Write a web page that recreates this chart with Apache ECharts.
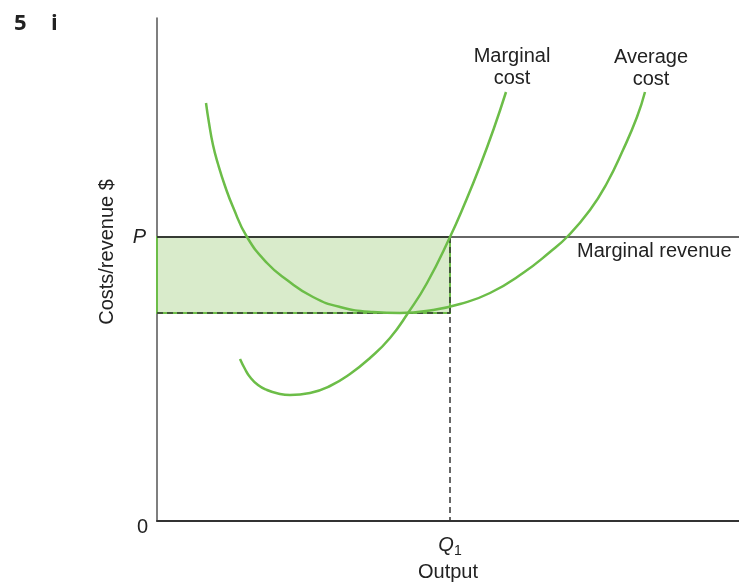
<!DOCTYPE html>
<html><head><meta charset="utf-8">
<script src="https://cdn.jsdelivr.net/npm/echarts@6/dist/echarts.min.js"></script>
<style>html,body{margin:0;padding:0;background:#fff}#c{width:739px;height:583px}</style>
</head><body><div id="c"></div>
<script>
// Abstract units: output along x, costs/revenue along y
const xMax = 582, yMax = 503;
const Q1 = 293;          // profit-maximising output
const P = 284;           // price = marginal revenue
const AC_Q1 = 208;       // average cost level of the shaded area
const marginalCost = [[83,162],[88,152],[93,144],[101,136],[110,131],[121,127.5],[133,126],[153,128],[173,135],[193,147],[213,163],[233,183],[251,208],[270,238],[293,284],[308,318],[323,355],[337,393],[349,429]];
const averageCost = [[49,418],[52,398],[56,376],[61,357],[68,335],[76,314],[90,284],[110,258],[130,241],[156,224],[183,214],[216,209],[243,208],[276,211],[303,217],[333,228],[366,248],[393,269],[411,285],[433,311],[450,338],[466,371],[480,404],[488,429]];
const marginalRevenue = [[0,P],[xMax,P]];

const green = '#6cbd48', dark = '#333', font = '"Liberation Sans", Arial, sans-serif';
const chart = echarts.init(document.getElementById('c'));
chart.setOption({
  animation:false,
  textStyle:{fontFamily:font},
  grid:{left:157, right:0, top:18, bottom:62, outerBoundsMode:'none', containLabel:false},
  xAxis:{type:'value', min:0, max:xMax, splitLine:{show:false},
    axisLine:{lineStyle:{color:dark,width:2}}, axisTick:{show:false},
    axisLabel:{customValues:[Q1], margin:11, color:'#222', fontSize:20,
      formatter:()=> '{i|Q}{s|1}',
      rich:{i:{fontStyle:'italic',fontSize:20,color:'#222',fontFamily:font}, s:{fontSize:14,color:'#222',padding:[12,0,0,0],fontFamily:font}}},
    name:'Output', nameLocation:'middle', nameGap:40, nameTextStyle:{fontSize:20,color:'#222'}},
  yAxis:{type:'value', min:0, max:yMax, splitLine:{show:false},
    axisLine:{lineStyle:{color:'#555',width:1.5}}, axisTick:{show:false},
    axisLabel:{customValues:[0,P], margin:9, color:'#222', fontSize:20,
      formatter:(v)=> v===0 ? '{z|0}' : '{p|P}',
      rich:{z:{fontSize:20,color:'#222',padding:[12,0,0,0],fontFamily:font}, p:{fontSize:20,fontStyle:'italic',color:'#222',padding:[0,2,0,0],fontFamily:font}}}},
  series:[
    {type:'line', data:marginalRevenue, symbol:'none', z:3,
      lineStyle:{color:dark,width:1.5},
      markArea:{silent:true, itemStyle:{color:'#d9ebcb', borderColor:green, borderWidth:2},
        data:[[{coord:[0,P]},{coord:[Q1,AC_Q1]}]]}},
    {type:'line', data:[[0,P],[Q1,P]], symbol:'none', z:4, lineStyle:{color:dark,width:1.5}},
    {type:'line', data:[[0,AC_Q1],[Q1,AC_Q1]], symbol:'none', z:4, lineStyle:{color:dark,width:1.5,type:[6,4]}},
    {type:'line', data:[[Q1,P],[Q1,0]], symbol:'none', z:4, lineStyle:{color:dark,width:1.5,type:[6,4]}},
    {type:'line', name:'Marginal cost', data:marginalCost, smooth:0.5, symbol:'none', z:5,
      lineStyle:{color:green,width:2.5},
      endLabel:{show:true, formatter:'Marginal\ncost', fontSize:20, color:'#222', lineHeight:22, align:'center', verticalAlign:'bottom', offset:[-2,-3]}},
    {type:'line', name:'Average cost', data:averageCost, smooth:0.5, symbol:'none', z:5,
      lineStyle:{color:green,width:2.5},
      endLabel:{show:true, formatter:'Average\ncost', fontSize:20, color:'#222', lineHeight:22, align:'center', verticalAlign:'bottom', offset:[-2,-2]}}
  ],
  graphic:[
    {type:'text', left:14, top:13, style:{text:'5', font:'bold 22px "Open Sans", "DejaVu Sans", sans-serif', fill:'#222'}},
    {type:'text', left:51, top:13, style:{text:'i', font:'bold 22px "Open Sans", "DejaVu Sans", sans-serif', fill:'#222'}},
    {type:'text', left:577, top:241, style:{text:'Marginal revenue', font:'20px '+font, fill:'#222'}},
    {type:'text', x:107, y:252, rotation:Math.PI/2, style:{text:'Costs/revenue $', font:'20px '+font, fill:'#222', align:'center', verticalAlign:'middle'}}
  ]
});
</script></body></html>
